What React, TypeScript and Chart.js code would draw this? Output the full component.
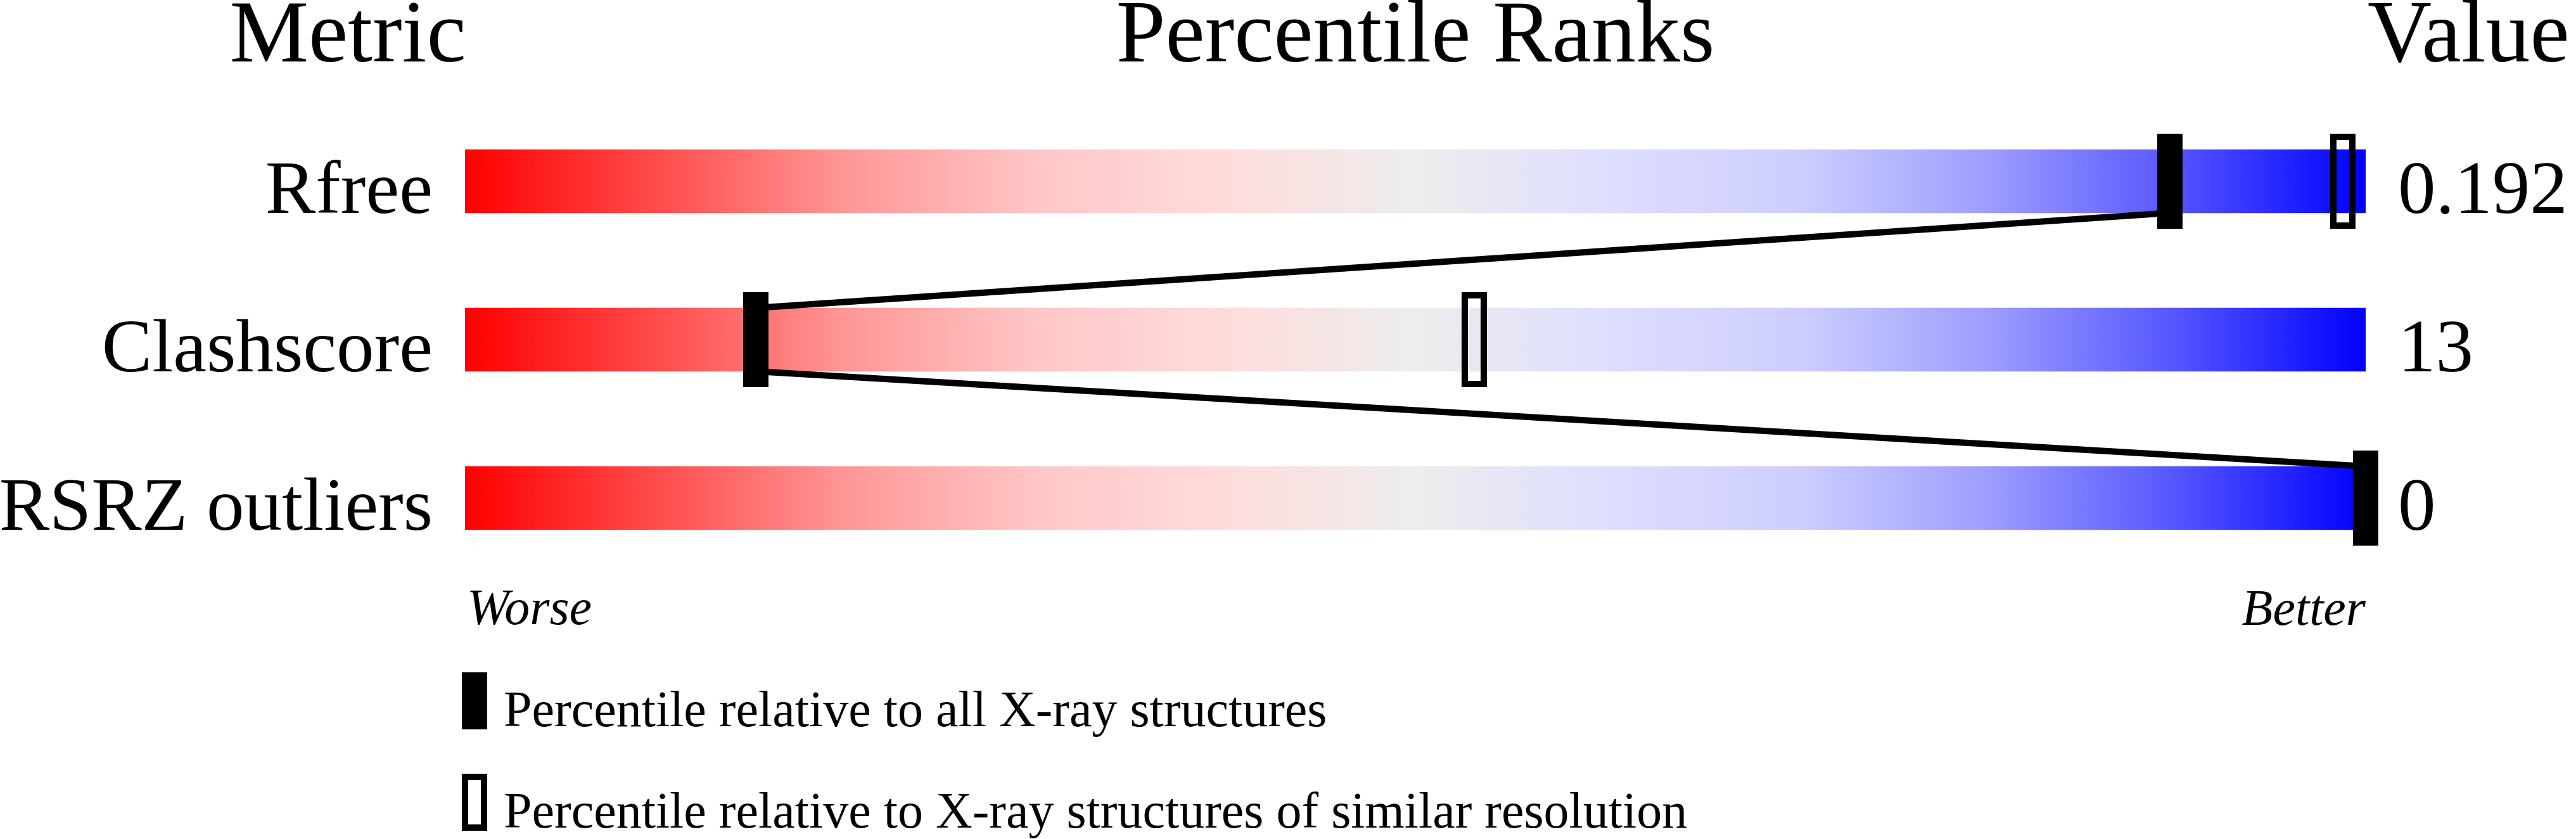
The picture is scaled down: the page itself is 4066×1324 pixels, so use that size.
import React, { useEffect, useRef } from 'react';
import { Chart, registerables } from 'chart.js';

Chart.register(...registerables);

// ---- data ----
const metrics = ['Rfree', 'Clashscore', 'RSRZ outliers'];
const metricValues = ['0.192', '13', '0'];
const percentileAll: (number | null)[] = [89.7, 15.3, 100];
const percentileSimilar: (number | null)[] = [98.8, 53.1, null];
const percentileRange = [0, 100];
const headers = ['Metric', 'Percentile Ranks', 'Value'];
const endLabels = ['Worse', 'Better'];
const legendLabels = [
  'Percentile relative to all X-ray structures',
  'Percentile relative to X-ray structures of similar resolution',
];
const gradientStops: [number, string][] = [
  [0.0, 'rgb(255,0,0)'],
  [0.1, 'rgb(255,75,75)'],
  [0.2, 'rgb(255,150,150)'],
  [0.3, 'rgb(255,198,198)'],
  [0.4, 'rgb(255,220,220)'],
  [0.5, 'rgb(237,237,237)'],
  [0.6, 'rgb(222,222,255)'],
  [0.7, 'rgb(206,206,255)'],
  [0.8, 'rgb(158,158,255)'],
  [0.9, 'rgb(85,85,255)'],
  [1.0, 'rgb(0,0,255)'],
];

const SERIF = '"Liberation Serif", "Times New Roman", "DejaVu Serif", serif';

function makeMarker(w: number, h: number, hollow: boolean): HTMLCanvasElement {
  const c = document.createElement('canvas');
  c.width = w;
  c.height = h;
  const g = c.getContext('2d')!;
  if (hollow) {
    g.strokeStyle = '#000';
    g.lineWidth = 10;
    g.strokeRect(5, 5, w - 10, h - 10);
  } else {
    g.fillStyle = '#000';
    g.fillRect(0, 0, w, h);
  }
  return c;
}

export default function App() {
  const ref = useRef<HTMLCanvasElement | null>(null);

  useEffect(() => {
    const canvas = ref.current;
    if (!canvas) return;

    const solidMarker = makeMarker(40, 150, false);
    const hollowMarker = makeMarker(40, 150, true);
    const solidLegend = makeMarker(40, 90, false);
    const hollowLegend = makeMarker(40, 90, true);

    const barHalf = 0.2; // half bar thickness in row units
    const linePts: { x: number; y: number }[] = [];
    percentileAll.forEach((p, i) => {
      if (p == null) return;
      if (i > 0) linePts.push({ x: p, y: i - barHalf });
      if (i < percentileAll.length - 1) linePts.push({ x: p, y: i + barHalf });
    });

    const textPlugin = {
      id: 'texts',
      afterDraw(chart: any) {
        const { ctx, chartArea, scales } = chart;
        const yl = scales.yl;
        ctx.save();
        ctx.fillStyle = '#000';
        ctx.textBaseline = 'alphabetic';

        // headers
        ctx.font = `140px ${SERIF}`;
        ctx.textAlign = 'center';
        ctx.fillText(headers[0], chartArea.left - 185, 97);
        ctx.fillText(headers[1], (chartArea.left + chartArea.right) / 2, 97);
        ctx.textAlign = 'left';
        ctx.fillText(headers[2], chartArea.right + 3, 97, 328);

        // row labels and values
        ctx.font = `119px ${SERIF}`;
        metrics.forEach((m, i) => {
          const base = yl.getPixelForValue(i) + 50;
          ctx.textAlign = 'right';
          ctx.fillText(m, chartArea.left - 51, base);
          ctx.textAlign = 'left';
          ctx.fillText(metricValues[i], chartArea.right + 51, base);
        });

        // worse / better
        ctx.font = `italic 80px ${SERIF}`;
        ctx.textAlign = 'left';
        ctx.fillText(endLabels[0], chartArea.left + 3, 985);
        ctx.textAlign = 'right';
        ctx.fillText(endLabels[1], chartArea.right, 986);

        // legend
        ctx.font = `80px ${SERIF}`;
        ctx.textAlign = 'left';
        const legendMarkers = [solidLegend, hollowLegend];
        legendLabels.forEach((t, i) => {
          const top = 1061 + i * 160;
          ctx.drawImage(legendMarkers[i], chartArea.left - 5, top);
          ctx.fillText(t, chartArea.left + 61, top + 85);
        });
        ctx.restore();
      },
    };

    const chart = new Chart(canvas, {
      type: 'bar',
      data: {
        labels: metrics,
        datasets: [
          {
            type: 'scatter',
            label: 'all',
            data: percentileAll.map((p, i) => (p == null ? null : { x: p, y: i })).filter(Boolean) as any,
            xAxisID: 'x',
            yAxisID: 'yl',
            pointStyle: solidMarker as any,
            pointRadius: 5,
            clip: false as any,
            order: 0,
          } as any,
          {
            type: 'scatter',
            label: 'similar',
            data: percentileSimilar.map((p, i) => (p == null ? null : { x: p, y: i })).filter(Boolean) as any,
            xAxisID: 'x',
            yAxisID: 'yl',
            pointStyle: hollowMarker as any,
            pointRadius: 5,
            clip: false as any,
            order: 0,
          } as any,
          {
            type: 'line',
            label: 'link',
            data: linePts as any,
            xAxisID: 'x',
            yAxisID: 'yl',
            borderColor: '#000',
            borderWidth: 10,
            pointRadius: 0,
            fill: false,
            tension: 0,
            clip: false as any,
            order: 1,
          } as any,
          {
            type: 'bar',
            label: 'range',
            indexAxis: 'y',
            data: metrics.map(() => [percentileRange[0], percentileRange[1]]) as any,
            xAxisID: 'x',
            yAxisID: 'y',
            barThickness: 100,
            borderWidth: 0,
            backgroundColor: (c: any) => {
              const ch = c.chart;
              if (!ch.chartArea) return 'rgb(237,237,237)';
              const xs = ch.scales.x;
              const g = ch.ctx.createLinearGradient(
                xs.getPixelForValue(percentileRange[0]), 0,
                xs.getPixelForValue(percentileRange[1]), 0);
              gradientStops.forEach(([o, col]) => g.addColorStop(o, col));
              return g;
            },
            order: 2,
          } as any,
        ],
      },
      options: {
        responsive: false,
        animation: false,
        devicePixelRatio: 1,
        layout: { padding: { left: 734, right: 332, top: 161, bottom: 413 } },
        plugins: {
          legend: { display: false },
          tooltip: { enabled: false },
        },
        events: [],
        scales: {
          x: { type: 'linear', min: percentileRange[0], max: percentileRange[1], display: false, offset: false, grid: { offset: false } },
          y: { type: 'category', labels: metrics, display: false, offset: true },
          yl: { type: 'linear', axis: 'y', position: 'left', min: -0.5, max: metrics.length - 0.5, reverse: true, display: false, offset: false },
        } as any,
      },
      plugins: [textPlugin],
    });

    return () => chart.destroy();
  }, []);

  return (
    <div style={{ position: 'fixed', left: 0, top: 0, width: 4066, height: 1324, background: '#fff' }}>
      <canvas ref={ref} width={4066} height={1324} style={{ width: 4066, height: 1324, display: 'block' }} />
    </div>
  );
}
